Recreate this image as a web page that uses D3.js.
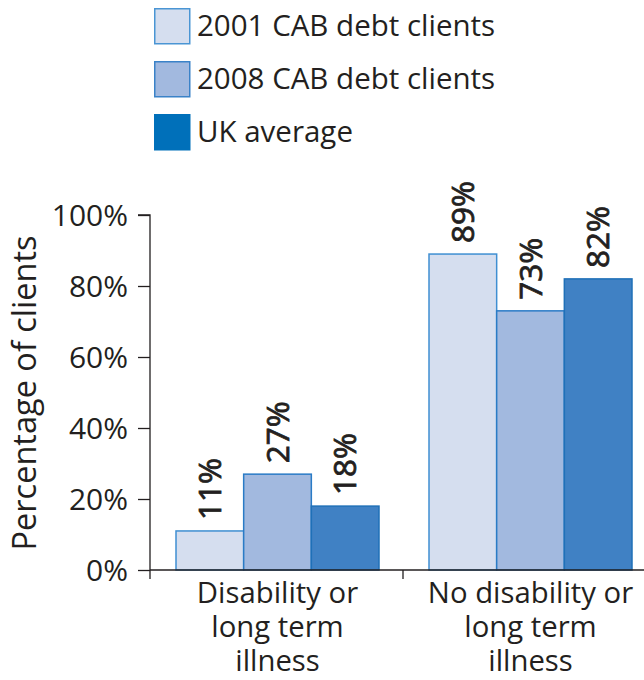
<!DOCTYPE html>
<html>
<head>
<meta charset="utf-8">
<script src="https://cdn.jsdelivr.net/npm/d3@7"></script>
<style>
  html, body { margin: 0; padding: 0; background: #fff; }
  svg { display: block; }
  text { font-family: "Open Sans", sans-serif; fill: #231f20; }
</style>
</head>
<body>
<svg id="chart" width="644" height="680"></svg>
<script>
// Share of clients with / without a disability or long-term illness
const categories = [
  ["Disability or", "long term", "illness"],
  ["No disability or", "long term", "illness"]
];
const seriesNames = ["2001 CAB debt clients", "2008 CAB debt clients", "UK average"];
const series2001 = [11, 89];
const series2008 = [27, 73];
const seriesUK = [18, 82];
const yTicks = [0, 20, 40, 60, 80, 100];

const seriesValues = [series2001, series2008, seriesUK];
const barFill = ["#d5deef", "#a2b9df", "#4081c4"];
const barStroke = ["#3f8fd2", "#2a7bc6", "#1f70b8"];
const swatchFill = ["#d5deef", "#a2b9df", "#0070ba"];
const swatchStroke = ["#4a95d4", "#3a82c8", "#0070ba"];

const svg = d3.select("#chart");

const y = d3.scaleLinear().domain([0, 100]).range([570, 215]);
const x0 = d3.scaleBand().domain(d3.range(categories.length)).range([150, 656]).padding(0);
const x1 = d3.scaleBand().domain(d3.range(seriesNames.length))
  .range([26, x0.bandwidth() - 24]).padding(0);

// y axis
const yAxis = svg.append("g").attr("transform", "translate(150,0)")
  .call(d3.axisLeft(y).tickValues(yTicks).tickSize(12).tickPadding(10).tickFormat(d => d + "%"));
yAxis.select(".domain").attr("d", `M-12,${y(100)}H0V${y(0) + 9}`).attr("stroke", "#231f20").attr("stroke-width", 1.3);
yAxis.selectAll(".tick line").attr("stroke", "#231f20").attr("stroke-width", 1.3);
yAxis.selectAll(".tick text").style("font-size", "30px").attr("fill", "#231f20").attr("dy", "0.36em");

// bars
const groups = svg.append("g").selectAll("g")
  .data(categories.map((c, i) => i))
  .join("g")
  .attr("transform", i => `translate(${x0(i)},0)`);

groups.selectAll("rect")
  .data(i => seriesValues.map((s, k) => ({ k, v: s[i] })))
  .join("rect")
  .attr("x", d => x1(d.k))
  .attr("y", d => y(d.v))
  .attr("width", x1.bandwidth())
  .attr("height", d => y(0) - y(d.v))
  .attr("fill", d => barFill[d.k])
  .attr("stroke", d => barStroke[d.k])
  .attr("stroke-width", 1.5);

// value labels, rotated, drawn slightly heavier than the axis text
groups.selectAll("text.val")
  .data(i => seriesValues.map((s, k) => ({ k, v: s[i] })))
  .join("text")
  .attr("class", "val")
  .attr("transform", d => `translate(${x1(d.k) + x1.bandwidth() / 2 + 11},${y(d.v) - 11}) rotate(-90)`)
  .style("font-size", "31.5px")
  .attr("stroke", "#231f20")
  .attr("stroke-width", 0.8)
  .attr("text-anchor", "start")
  .text(d => d.v + "%");

// x axis
const xAxis = svg.append("g").attr("transform", `translate(0,${y(0)})`);
xAxis.append("line").attr("x1", 150).attr("x2", 644).attr("y1", 0).attr("y2", 0)
  .attr("stroke", "#231f20").attr("stroke-width", 1.3);
xAxis.append("line").attr("x1", x0(1)).attr("x2", x0(1)).attr("y1", 0).attr("y2", 9)
  .attr("stroke", "#231f20").attr("stroke-width", 1.3);

// category labels
const catLabels = svg.append("g").selectAll("text")
  .data(categories.map((c, i) => ({ c, i })))
  .join("text")
  .attr("text-anchor", "middle")
  .style("font-size", "29.3px")
  .attr("transform", d => `translate(${x0(d.i) + (x1.range()[0] + x1.range()[1]) / 2},603)`);
catLabels.selectAll("tspan")
  .data(d => d.c)
  .join("tspan")
  .attr("x", 0)
  .attr("y", (d, j) => j * 34)
  .text(d => d);

// y axis title
svg.append("text")
  .attr("transform", `translate(36,393) rotate(-90)`)
  .attr("text-anchor", "middle")
  .style("font-size", "32.5px")
  .text("Percentage of clients");

// legend
const legend = svg.append("g").selectAll("g")
  .data(seriesNames.map((n, k) => ({ n, k })))
  .join("g")
  .attr("transform", d => `translate(154,${8 + d.k * 53})`);
legend.append("rect")
  .attr("x", 0.75).attr("y", 0.75).attr("width", 35).attr("height", 35)
  .attr("fill", d => swatchFill[d.k])
  .attr("stroke", d => swatchStroke[d.k])
  .attr("stroke-width", 1.5);
legend.append("text")
  .attr("x", 43).attr("y", 28)
  .style("font-size", "29.5px")
  .text(d => d.n);
</script>
</body>
</html>
